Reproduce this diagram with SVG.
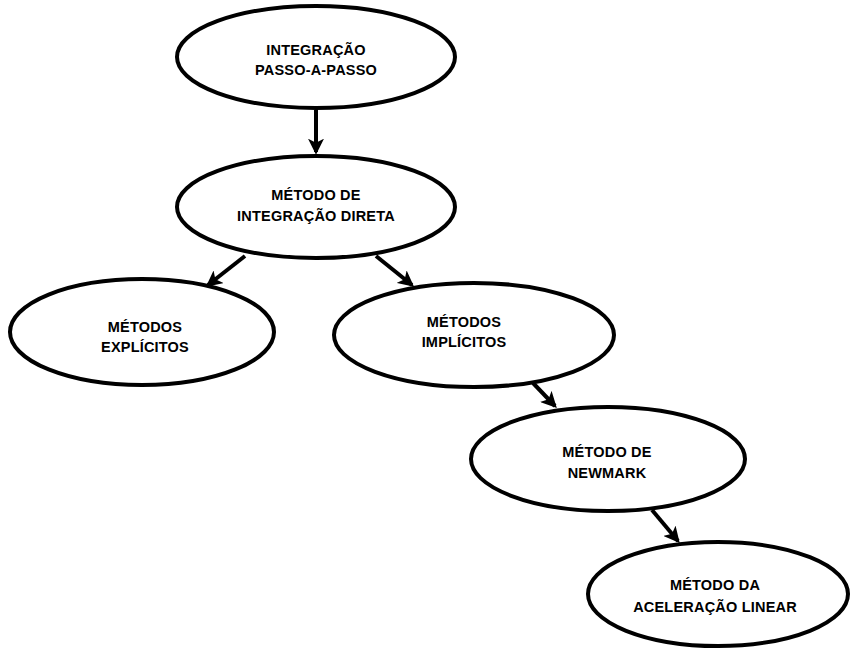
<svg xmlns="http://www.w3.org/2000/svg" width="853" height="653" viewBox="0 0 853 653">
  <style>
    .node ellipse { fill: #ffffff; stroke: #000000; stroke-width: 4; }
    .node text { font-family: "Liberation Sans", Arial, sans-serif; font-weight: bold; font-size: 14.5px; letter-spacing: 0.2px; fill: #000000; text-anchor: middle; }
    .edge { fill: none; stroke: #000000; stroke-width: 4; marker-end: url(#arrow); }
  </style>
  <defs>
    <marker id="arrow" viewBox="0 0 12 12" refX="10" refY="6" markerWidth="4" markerHeight="4" markerUnits="strokeWidth" orient="auto">
      <path d="M0,0 L12,6 L0,12 L3,6 Z" fill="#000000"/>
    </marker>
  </defs>

  <rect width="853" height="653" fill="#ffffff"/>

  <g id="connectors">
    <line class="edge" x1="316" y1="110" x2="316" y2="152"/>
    <line class="edge" x1="245" y1="256" x2="208" y2="285"/>
    <line class="edge" x1="376" y1="256" x2="412" y2="285"/>
    <line class="edge" x1="533" y1="383" x2="555" y2="406"/>
    <line class="edge" x1="652" y1="510" x2="678" y2="541"/>
  </g>

  <g id="node-passo" class="node">
    <ellipse cx="316" cy="57" rx="139" ry="51"/>
    <text x="316" y="55">INTEGRAÇÃO</text>
    <text x="316" y="75">PASSO-A-PASSO</text>
  </g>

  <g id="node-direta" class="node">
    <ellipse cx="316" cy="207" rx="139" ry="51"/>
    <text x="316" y="200">MÉTODO DE</text>
    <text x="316" y="221">INTEGRAÇÃO DIRETA</text>
  </g>

  <g id="node-explicitos" class="node">
    <ellipse cx="142" cy="332" rx="132" ry="53"/>
    <text x="145" y="332">MÉTODOS</text>
    <text x="145" y="352">EXPLÍCITOS</text>
  </g>

  <g id="node-implicitos" class="node">
    <ellipse cx="474" cy="335" rx="140" ry="52"/>
    <text x="464" y="327">MÉTODOS</text>
    <text x="464" y="347">IMPLÍCITOS</text>
  </g>

  <g id="node-newmark" class="node">
    <ellipse cx="608" cy="459" rx="137" ry="52"/>
    <text x="607" y="457">MÉTODO DE</text>
    <text x="607" y="478">NEWMARK</text>
  </g>

  <g id="node-aceleracao" class="node">
    <ellipse cx="718" cy="594" rx="130" ry="52"/>
    <text x="715" y="590">MÉTODO DA</text>
    <text x="715" y="612">ACELERAÇÃO LINEAR</text>
  </g>
</svg>
